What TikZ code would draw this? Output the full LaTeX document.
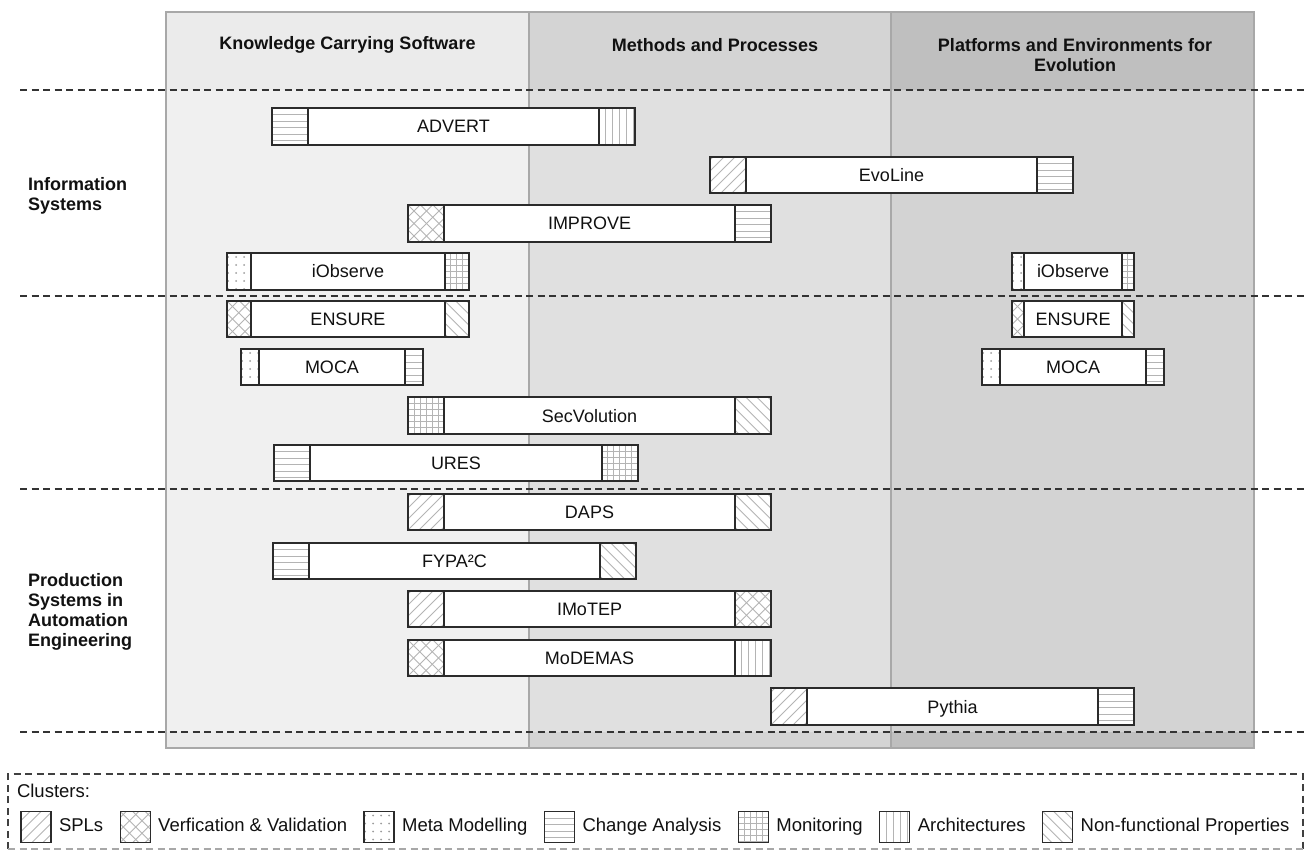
\documentclass[tikz,border=0pt]{standalone}
\usepackage{fontspec}
\setmainfont{Liberation Sans}
\usetikzlibrary{calc,positioning}
\definecolor{colAh}{HTML}{EBEBEB}
\definecolor{colAb}{HTML}{F0F0F0}
\definecolor{colBh}{HTML}{D4D4D4}
\definecolor{colBb}{HTML}{E0E0E0}
\definecolor{colCh}{HTML}{BFBFBF}
\definecolor{colCb}{HTML}{D3D3D3}
\definecolor{frameln}{HTML}{A8A8A8}
\definecolor{darkln}{HTML}{2B2B2B}
\definecolor{dashln}{HTML}{333333}
\definecolor{patcol}{HTML}{B4B4B4}
\definecolor{dotcol}{HTML}{9C9C9C}
\definecolor{legbot}{HTML}{A8A8A8}
\definecolor{txt}{HTML}{111111}

\tikzset{
  projbox/.style={draw=none, fill=white, inner sep=0pt, outer sep=0pt,
    font=\fontsize{18}{20}\selectfont, text=txt, text height=13pt, text depth=0pt},
  barline/.style={draw=darkln, line width=2pt},
  patline/.style={draw=patcol, line width=0.9pt},
  sepline/.style={draw=dashln, line width=2pt, dash pattern=on 7pt off 4.5pt},
  colline/.style={draw=frameln, line width=1.6pt},
  hdr/.style={font=\bfseries\fontsize{18}{20}\selectfont, text=txt, align=center, inner sep=0pt},
  rowlab/.style={font=\bfseries\fontsize{18}{20}\selectfont, text=txt, align=left, inner sep=0pt, anchor=west},
  legbox/.style={draw=none, fill=white, minimum width=30pt, minimum height=31pt, inner sep=0pt, outer sep=0pt},
  legline/.style={draw=darkln, line width=1.4pt},
  legtext/.style={font=\fontsize{18.5}{20}\selectfont, text=txt, inner sep=0pt, outer sep=0pt,
    text height=13.5pt, text depth=4pt},
  legframe/.style={line width=1.5pt, dash pattern=on 7pt off 4.5pt},
}

% pattern macros: #1 width, #2 height (local coords, y downward)
\newcommand\patSPL[2]{\foreach \k in {-44,-33,...,44}{\draw[patline] (\k,#2) -- ++(#2,-#2);}}
\newcommand\patNFP[2]{\foreach \k in {-44,-33,...,44}{\draw[patline] (\k,0) -- ++(#2,#2);}}
\newcommand\patVV[2]{\foreach \k in {-50,-37.5,...,50}{\draw[patline] (\k,#2) -- ++(#2,-#2); \draw[patline] (\k,0) -- ++(#2,#2);}}
\newcommand\patCA[2]{\foreach \yy in {6.5,13,...,36}{\draw[patline] (0,\yy) -- (#1,\yy);}}
\newcommand\patARCH[2]{\foreach \xx in {7,14,...,42}{\draw[patline] (\xx,0) -- (\xx,#2);}}
\newcommand\patMON[2]{\foreach \xx in {6,12,...,42}{\draw[patline] (\xx,0) -- (\xx,#2); \draw[patline] (0,\xx) -- (#1,\xx);}}
\newcommand\patMM[2]{\foreach \xx in {1,9,...,41}{\foreach \yy in {4,12,...,40}{\fill[dotcol] (\xx,\yy) circle (1.0);}}}

% #1 name, #2 x1, #3 x2, #4 ytop, #5 ybottom, #6 left type, #7 right type, #8 label
\newcommand\projbar[8]{%
  \pgfmathsetmacro\pbw{#3-#2}%
  \pgfmathsetmacro\pbh{#5-#4}%
  \pgfmathsetmacro\pw{0.1*\pbw}%
  \node[projbox, minimum width=\pbw pt, minimum height=\pbh pt] (#1) at ({(#2+#3)/2},{(#4+#5)/2}) {#8};
  \begin{scope}[shift={(#1.north west)}]
    \clip (0,0) rectangle (\pw,\pbh);
    \csname pat#6\endcsname{\pw}{\pbh}
  \end{scope}
  \begin{scope}[shift={($(#1.north east)+(-\pw,0)$)}]
    \clip (0,0) rectangle (\pw,\pbh);
    \csname pat#7\endcsname{\pw}{\pbh}
  \end{scope}
  \draw[barline] (#1.north west) rectangle (#1.south east);
  \draw[barline] ($(#1.north west)+(\pw,0)$) -- ($(#1.south west)+(\pw,0)$);
  \draw[barline] ($(#1.north east)+(-\pw,0)$) -- ($(#1.south east)+(-\pw,0)$);
}

% #1 name, #2 placement, #3 type, #4 text
\newcommand\legitem[4]{%
  \node[legbox, #2] (#1) {};
  \begin{scope}[shift={(#1.north west)}]
    \clip (0,0) rectangle (30,31);
    \csname pat#3\endcsname{30}{31}
  \end{scope}
  \draw[legline] (#1.north west) rectangle (#1.south east);
  \node[legtext, right=8pt of #1] (#1t) {#4};
}

\begin{document}
\begin{tikzpicture}[x=1pt,y=-1pt]
\useasboundingbox (0,0) rectangle (1306,858);
\fill[white] (0,0) rectangle (1306,858);

% columns
\fill[colAh] (166,12) rectangle (529,748);
\fill[colBh] (529,12) rectangle (891,748);
\fill[colCh] (891,12) rectangle (1254,748);
\fill[colAb] (166,90) rectangle (529,732);
\fill[colBb] (529,90) rectangle (891,732);
\fill[colCb] (891,90) rectangle (1254,732);
\draw[colline] (529,12) -- (529,748);
\draw[colline] (891,12) -- (891,748);
\draw[colline] (166,12) rectangle (1254,748);

% headers
\node[hdr] (h1) at (347.5,45) {Knowledge Carrying Software};
\node[hdr] (h2) at (715,45) {Methods and Processes};
\node[hdr] (h3) at (1075,55) {Platforms and Environments for\\Evolution};

% separators
\draw[sepline] (20,90) -- (1306,90);
\draw[sepline] (20,296) -- (1306,296);
\draw[sepline] (20,489) -- (1306,489);
\draw[sepline] (20,732) -- (1306,732);

% row labels
\node[rowlab] (is) at (28,195.5) {Information\\Systems};
\node[rowlab] (ps) at (28,612) {Production\\Systems in\\Automation\\Engineering};

% bars
\projbar{advert}{272}{635}{108}{145}{CA}{ARCH}{ADVERT}
\projbar{evoline}{710}{1073}{157}{193}{SPL}{CA}{EvoLine}
\projbar{improve}{408}{771}{205}{242}{VV}{CA}{IMPROVE}
\projbar{iobsA}{227}{469}{253}{290}{MM}{MON}{iObserve}
\projbar{iobsB}{1012}{1134}{253}{290}{MM}{MON}{iObserve}
\projbar{ensA}{227}{469}{301}{337}{VV}{NFP}{ENSURE}
\projbar{ensB}{1012}{1134}{301}{337}{VV}{NFP}{ENSURE}
\projbar{mocaA}{241}{423}{349}{385}{MM}{CA}{MOCA}
\projbar{mocaB}{982}{1164}{349}{385}{MM}{CA}{MOCA}
\projbar{secvol}{408}{771}{397}{434}{MON}{NFP}{SecVolution}
\projbar{ures}{274}{638}{445}{481}{CA}{MON}{URES}
\projbar{daps}{408}{771}{494}{530}{SPL}{NFP}{DAPS}
\projbar{fypa}{273}{636}{543}{579}{CA}{NFP}{FYPA²C}
\projbar{imotep}{408}{771}{591}{627}{SPL}{VV}{IMoTEP}
\projbar{modemas}{408}{771}{640}{676}{VV}{ARCH}{MoDEMAS}
\projbar{pythia}{771}{1134}{688}{725}{SPL}{CA}{Pythia}

% legend
\draw[legframe, draw=darkln!90] (8,849) -- (8,774) -- (1303,774) -- (1303,849);
\draw[legframe, draw=legbot] (8,849) -- (1303,849);
\node[legtext, anchor=west] (clusters) at (17,793) {Clusters:};
\legitem{lgA}{at={(36,827)}}{SPL}{SPLs}
\legitem{lgB}{right=17pt of lgAt}{VV}{Verfication \& Validation}
\legitem{lgC}{right=17pt of lgBt}{MM}{Meta Modelling}
\legitem{lgD}{right=17pt of lgCt}{CA}{Change Analysis}
\legitem{lgE}{right=17pt of lgDt}{MON}{Monitoring}
\legitem{lgF}{right=17pt of lgEt}{ARCH}{Architectures}
\legitem{lgG}{right=17pt of lgFt}{NFP}{Non-functional Properties}
\end{tikzpicture}
\end{document}
